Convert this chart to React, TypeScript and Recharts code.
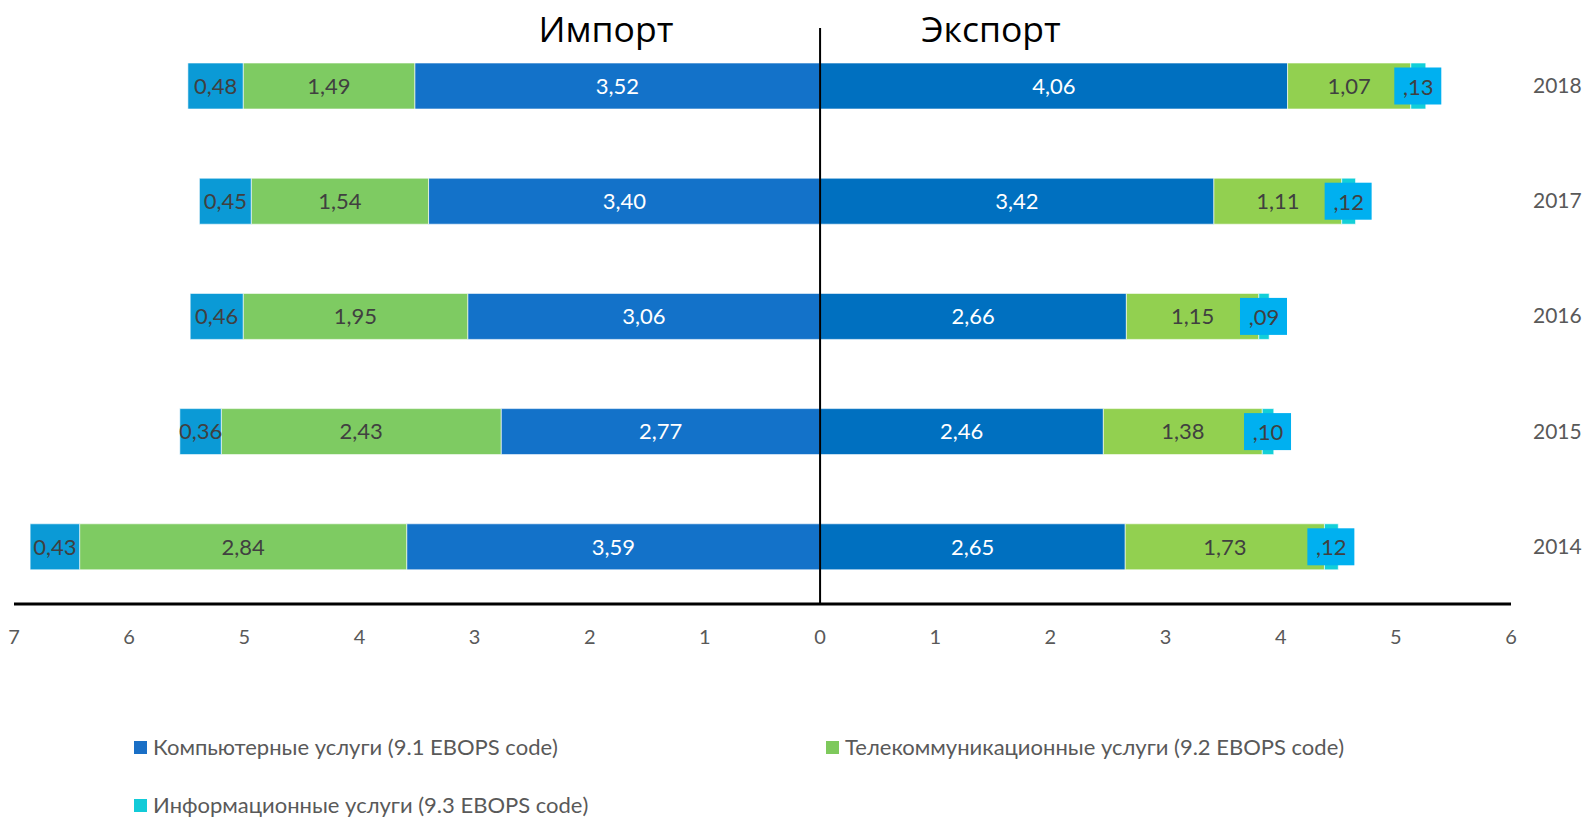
import { BarChart, Bar, XAxis, YAxis, ReferenceLine, LabelList } from "recharts";

const years = ["2018", "2017", "2016", "2015", "2014"];
const importComputer = [3.52, 3.4, 3.06, 2.77, 3.59];
const importTelecom = [1.49, 1.54, 1.95, 2.43, 2.84];
const importInfo = [0.48, 0.45, 0.46, 0.36, 0.43];
const exportComputer = [4.06, 3.42, 2.66, 2.46, 2.65];
const exportTelecom = [1.07, 1.11, 1.15, 1.38, 1.73];
const exportInfo = [0.13, 0.12, 0.09, 0.1, 0.12];
const xTicks = [-7, -6, -5, -4, -3, -2, -1, 0, 1, 2, 3, 4, 5, 6];
const legendItems = [
  { name: "Компьютерные услуги (9.1 EBOPS code)", color: "#1a6fc6" },
  { name: "Телекоммуникационные услуги (9.2 EBOPS code)", color: "#7ec95c" },
  { name: "Информационные услуги (9.3 EBOPS code)", color: "#12cbd8" },
];

const data = years.map((year, i) => ({
  year,
  impComp: -importComputer[i],
  impTel: -importTelecom[i],
  impInfo: -importInfo[i],
  expComp: exportComputer[i],
  expTel: exportTelecom[i],
  expInfo: exportInfo[i],
}));

const FONT = "Lato, 'Noto Sans', sans-serif";
const fmt = (v: any) => Math.abs(Number(v)).toFixed(2).replace(".", ",");

// export info labels sit in a blue box, Excel style
const InfoLabel = (props: any) => {
  const { x, y, width, height, value } = props;
  const cx = Number(x) + Number(width) / 2;
  const cy = Number(y) + Number(height) / 2;
  const txt = fmt(value).replace(/^0/, "");
  return (
    <g>
      <rect x={cx - 24} y={cy - 18.5} width={47} height={37} fill="#00b0f0" />
      <text x={cx} y={cy} textAnchor="middle" dominantBaseline="central" fontSize={22} fill="#404040" fontFamily={FONT}>
        {txt}
      </text>
    </g>
  );
};

const seg = { stroke: "#ffffff", strokeOpacity: 0.6, strokeWidth: 1 };
const titleStyle = {
  position: "absolute" as const,
  top: 28,
  transform: "translate(-50%, -50%)",
  fontFamily: "'Open Sans', sans-serif",
  fontSize: 35.5,
  color: "#000",
  whiteSpace: "nowrap" as const,
};

export default function App() {
  return (
    <div style={{ position: "relative", width: 1583, height: 818, fontFamily: FONT, overflow: "hidden" }}>
      <style>{`html, body { margin: 0; padding: 0; overflow: hidden; }`}</style>
      <div style={{ ...titleStyle, left: 606 }}>Импорт</div>
      <div style={{ ...titleStyle, left: 991 }}>Экспорт</div>
      <BarChart
        width={1583}
        height={658}
        data={data}
        layout="vertical"
        stackOffset="sign"
        barSize={46}
        margin={{ top: 28, right: 12, left: 14, bottom: 0 }}
      >
        <XAxis
          type="number"
          domain={[-7, 6]}
          ticks={xTicks}
          tickFormatter={(v) => String(Math.abs(v))}
          axisLine={{ stroke: "#000", strokeWidth: 3 }}
          tickLine={false}
          tickMargin={20}
          height={54}
          tick={{ fill: "#595959", fontSize: 20, fontFamily: FONT }}
        />
        <YAxis
          type="category"
          dataKey="year"
          orientation="right"
          width={60}
          axisLine={false}
          tickLine={false}
          tickMargin={16}
          tick={{ fill: "#595959", fontSize: 21, fontFamily: FONT, textAnchor: "start" }}
        />
        <Bar dataKey="impComp" stackId="a" fill="#1372c9" {...seg} isAnimationActive={false}>
          <LabelList dataKey="impComp" position="center" formatter={fmt} fill="#ffffff" fontSize={22} fontFamily={FONT} />
        </Bar>
        <Bar dataKey="impTel" stackId="a" fill="#7ecb62" {...seg} isAnimationActive={false}>
          <LabelList dataKey="impTel" position="center" formatter={fmt} fill="#404040" fontSize={22} fontFamily={FONT} />
        </Bar>
        <Bar dataKey="impInfo" stackId="a" fill="#0b9ad6" {...seg} isAnimationActive={false}>
          <LabelList dataKey="impInfo" position="center" formatter={fmt} fill="#404040" fontSize={22} fontFamily={FONT} />
        </Bar>
        <Bar dataKey="expComp" stackId="a" fill="#0070c0" {...seg} isAnimationActive={false}>
          <LabelList dataKey="expComp" position="center" formatter={fmt} fill="#ffffff" fontSize={22} fontFamily={FONT} />
        </Bar>
        <Bar dataKey="expTel" stackId="a" fill="#92d050" {...seg} isAnimationActive={false}>
          <LabelList dataKey="expTel" position="center" formatter={fmt} fill="#404040" fontSize={22} fontFamily={FONT} />
        </Bar>
        <Bar dataKey="expInfo" stackId="a" fill="#12cfd8" {...seg} isAnimationActive={false}>
          <LabelList dataKey="expInfo" content={InfoLabel} />
        </Bar>
        <ReferenceLine x={0} stroke="#000" strokeWidth={2} ifOverflow="visible" />
      </BarChart>
      {legendItems.map((item, i) => (
        <div
          key={item.name}
          style={{
            position: "absolute",
            left: i === 1 ? 826 : 134,
            top: i === 2 ? 794 : 736,
            display: "flex",
            alignItems: "center",
            fontSize: 22,
            lineHeight: 1,
            color: "#595959",
            whiteSpace: "nowrap",
          }}
        >
          <span style={{ display: "inline-block", width: 13, height: 13, background: item.color, marginRight: 6 }} />
          {item.name}
        </div>
      ))}
    </div>
  );
}
